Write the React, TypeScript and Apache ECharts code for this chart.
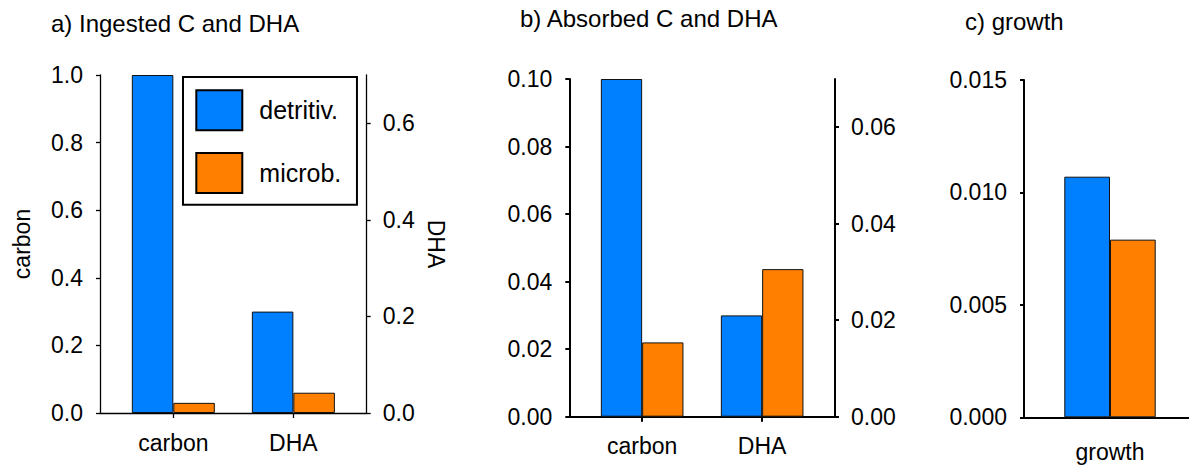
import { useEffect, useRef } from 'react';
import * as echarts from 'echarts';

// Categories and values for the three panels
const categories = ['carbon', 'DHA'];
const ingestedDetritiv = [1.0, 0.3];
const ingestedMicrob = [0.03, 0.06];
const absorbedDetritiv = [0.1, 0.03];
const absorbedMicrob = [0.022, 0.0437];
const growthCategories = ['growth'];
const growthDetritiv = [0.0107];
const growthMicrob = [0.0079];

// Right-hand DHA axis tick values
const dhaTicksA = [0, 0.2, 0.4, 0.6];
const dhaTicksB = [0, 0.02, 0.04, 0.06];

const seriesNames = ['detritiv.', 'microb.'];

const FONT = '"Liberation Sans", Arial, Helvetica, sans-serif';
const BLUE = '#0080ff';
const ORANGE = '#ff8000';
const INK = '#000';

const text = (size: number) => ({ fontFamily: FONT, fontSize: size, color: INK });

const toPoints = (vals: number[]) => vals.map((v, i) => [i, v]);

function catAxis(gridIndex: number, min: number, max: number, cats: string[], margin: number, ticks: boolean, lineWidth: number) {
  const idx = cats.map((_, i) => i);
  return {
    type: 'value',
    gridIndex,
    min,
    max,
    splitLine: { show: false },
    axisLine: { show: true, onZero: false, lineStyle: { color: INK, width: lineWidth } },
    axisTick: { show: ticks, length: 5, customValues: idx, lineStyle: { color: INK, width: lineWidth } },
    axisLabel: {
      ...text(23),
      margin,
      customValues: idx,
      formatter: (v: number) => (Math.abs(v - Math.round(v)) < 1e-6 ? cats[Math.round(v)] ?? '' : ''),
    },
  };
}

function valAxis(
  gridIndex: number,
  position: 'left' | 'right',
  max: number,
  digits: number,
  lineWidth: number,
  opts: { interval?: number; ticks?: number[]; name?: string; nameGap?: number; nameRotate?: number; margin: number }
) {
  const axis: any = {
    type: 'value',
    gridIndex,
    position,
    min: 0,
    max,
    splitLine: { show: false },
    axisLine: { show: true, onZero: false, lineStyle: { color: INK, width: lineWidth } },
    axisTick: { show: true, length: 4, lineStyle: { color: INK, width: lineWidth } },
    axisLabel: { ...text(23), margin: opts.margin, formatter: (v: number) => v.toFixed(digits) },
  };
  if (opts.interval) axis.interval = opts.interval;
  if (opts.ticks) {
    axis.axisTick.customValues = opts.ticks;
    axis.axisLabel.customValues = opts.ticks;
  }
  if (opts.name) {
    axis.name = opts.name;
    axis.nameLocation = 'middle';
    axis.nameGap = opts.nameGap;
    axis.nameRotate = opts.nameRotate;
    axis.nameTextStyle = text(23);
  }
  return axis;
}

function barPair(xAxisIndex: number, yAxisIndex: number, a: number[], b: number[], width: number) {
  const common = {
    type: 'bar',
    xAxisIndex,
    yAxisIndex,
    barWidth: width,
    barGap: '0%',
  };
  return [
    { ...common, name: seriesNames[0], data: toPoints(a), itemStyle: { color: BLUE, borderColor: '#111', borderWidth: 1 } },
    { ...common, name: seriesNames[1], data: toPoints(b), itemStyle: { color: ORANGE, borderColor: '#111', borderWidth: 1 } },
  ];
}

const titleStyle = { ...text(24), fontWeight: 'normal' };

const option: any = {
  animation: false,
  backgroundColor: '#fff',
  title: [
    { text: 'a) Ingested C and DHA', left: 51, top: 11.4, padding: 0, textStyle: titleStyle },
    { text: 'b) Absorbed C and DHA', left: 520, top: 6.4, padding: 0, textStyle: titleStyle },
    { text: 'c) growth', left: 965, top: 9, padding: 0, textStyle: titleStyle },
  ],
  legend: {
    data: seriesNames,
    orient: 'vertical',
    left: 183,
    top: 77,
    icon: 'rect',
    itemWidth: 46,
    itemHeight: 40,
    itemGap: 20.7,
    padding: [12.3, 15.7, 10.7, 12.3],
    borderColor: INK,
    borderWidth: 2,
    backgroundColor: '#fff',
    itemStyle: { borderColor: INK, borderWidth: 2 },
    textStyle: { ...text(25), padding: [15, 0, 0, 12] },
  },
  grid: [
    { left: 100, top: 75, width: 266.7, height: 338 },
    { left: 569.3, top: 79, width: 265.7, height: 337.7 },
    { left: 1024, top: 80, width: 165, height: 337.3 },
  ],
  xAxis: [
    catAxis(0, -0.611, 1.611, categories, 18, true, 1.3),
    catAxis(1, -0.607, 1.607, categories, 18, true, 2),
    catAxis(2, -0.7167, 0.6583, growthCategories, 23, false, 2),
  ],
  yAxis: [
    valAxis(0, 'left', 1.0, 1, 1.3, { interval: 0.2, name: 'carbon', nameGap: 66.5, nameRotate: 90, margin: 17 }),
    valAxis(0, 'right', 0.7, 1, 1.3, { ticks: dhaTicksA, name: 'DHA', nameGap: 57.8, nameRotate: -90, margin: 16 }),
    valAxis(1, 'left', 0.1, 2, 2, { interval: 0.02, margin: 17 }),
    valAxis(1, 'right', 0.07, 2, 2, { ticks: dhaTicksB, margin: 16 }),
    valAxis(2, 'left', 0.015, 3, 2, { interval: 0.005, margin: 17 }),
  ],
  series: [
    ...barPair(0, 0, ingestedDetritiv, ingestedMicrob, 41.5),
    ...barPair(1, 2, absorbedDetritiv, absorbedMicrob, 41.3),
    ...barPair(2, 4, growthDetritiv, growthMicrob, 45.7),
  ],
};

export default function App() {
  const ref = useRef<HTMLDivElement>(null);
  useEffect(() => {
    const chart = echarts.init(ref.current!, null, { renderer: 'svg' });
    chart.setOption(option);
    return () => chart.dispose();
  }, []);
  return (
    <div
      ref={ref}
      style={{ position: 'absolute', left: 0, top: 0, width: 1189, height: 470, background: '#fff' }}
    />
  );
}
